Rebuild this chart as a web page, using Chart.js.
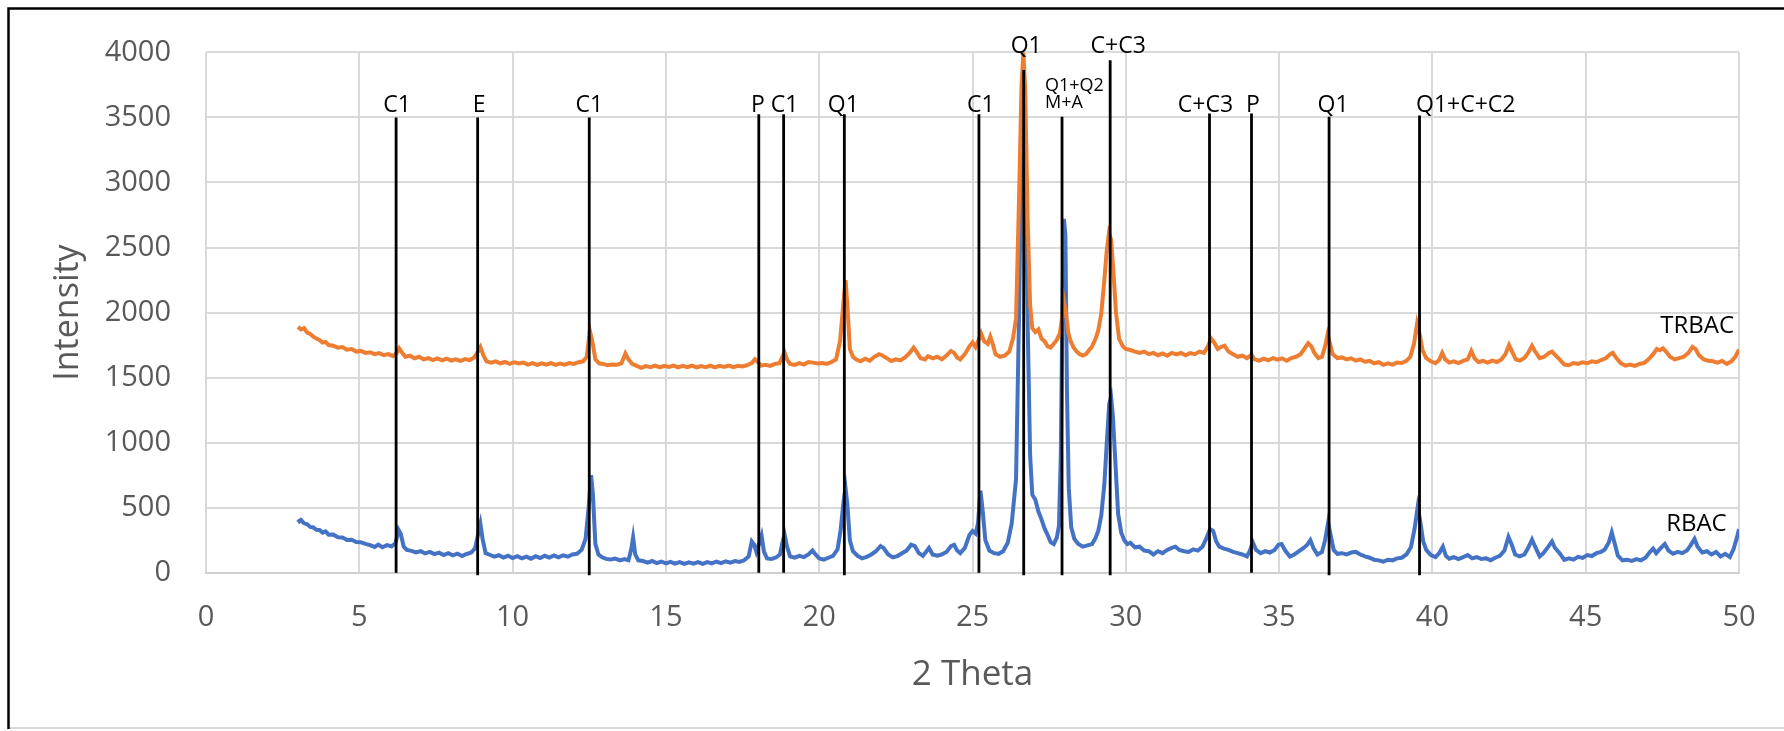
<!DOCTYPE html>
<html>
<head>
<meta charset="utf-8">
<script src="https://cdn.jsdelivr.net/npm/chart.js@4.4.1/dist/chart.umd.min.js"></script>
<style>
  html, body { margin: 0; padding: 0; background: #fff; }
  #wrap { width: 1784px; height: 731px; position: relative; }
</style>
</head>
<body>
<div id="wrap"><canvas id="xrd"></canvas></div>
<script>
// XRD scans, [2 theta, intensity]
const rbacScan = [
  [3.0,410],[3.05,395],[3.1,405],[3.2,380],[3.3,372],[3.4,352],[3.5,348],[3.6,330],[3.7,328],[3.8,308],
  [3.9,318],[4.0,292],[4.15,294],[4.3,272],[4.45,270],[4.6,252],[4.75,253],[4.9,236],[5.05,234],[5.2,222],
  [5.35,212],[5.5,198],[5.62,216],[5.75,196],[5.9,212],[6.05,203],[6.18,225],[6.28,330],[6.35,300],[6.45,200],
  [6.55,175],[6.7,168],[6.85,156],[7.0,166],[7.15,148],[7.3,160],[7.45,143],[7.6,154],[7.75,136],[7.9,150],
  [8.05,133],[8.2,147],[8.35,128],[8.5,144],[8.65,155],[8.78,190],[8.88,300],[8.95,375],[9.02,260],[9.12,150],
  [9.25,138],[9.4,123],[9.55,134],[9.7,116],[9.85,130],[10.0,113],[10.15,127],[10.3,110],[10.45,124],[10.6,108],
  [10.75,127],[10.9,113],[11.05,130],[11.2,116],[11.35,132],[11.5,118],[11.65,134],[11.8,123],[11.95,140],[12.1,145],
  [12.25,175],[12.38,260],[12.48,500],[12.56,750],[12.62,600],[12.7,220],[12.8,140],[12.92,118],[13.05,106],[13.2,102],
  [13.35,108],[13.5,94],[13.65,104],[13.78,95],[13.87,180],[13.93,270],[14.0,140],[14.1,95],[14.25,90],[14.4,78],
  [14.55,90],[14.7,74],[14.85,86],[15.0,72],[15.15,84],[15.3,70],[15.45,82],[15.6,68],[15.75,80],[15.9,70],
  [16.05,82],[16.2,68],[16.35,82],[16.5,72],[16.65,86],[16.8,74],[16.95,88],[17.1,78],[17.25,90],[17.4,83],
  [17.55,95],[17.7,125],[17.8,240],[17.88,215],[17.95,160],[18.05,230],[18.12,285],[18.2,160],[18.3,110],[18.45,105],
  [18.6,118],[18.72,140],[18.8,230],[18.87,295],[18.95,200],[19.05,125],[19.2,116],[19.35,130],[19.5,120],[19.65,140],
  [19.78,170],[19.88,140],[20.0,110],[20.15,100],[20.3,115],[20.45,130],[20.6,180],[20.7,330],[20.8,560],[20.86,650],
  [20.92,520],[21.0,250],[21.1,165],[21.25,130],[21.4,110],[21.55,122],[21.7,140],[21.85,165],[22.0,205],[22.1,190],
  [22.25,140],[22.4,118],[22.55,128],[22.7,150],[22.85,170],[23.0,215],[23.12,205],[23.25,150],[23.38,130],[23.5,165],
  [23.58,190],[23.7,140],[23.85,130],[24.0,140],[24.15,160],[24.3,205],[24.4,215],[24.5,170],[24.6,150],[24.75,190],
  [24.9,290],[25.0,320],[25.1,300],[25.18,380],[25.26,630],[25.33,480],[25.42,250],[25.55,170],[25.7,150],[25.85,145],
  [26.0,165],[26.15,230],[26.28,380],[26.42,720],[26.52,2000],[26.6,3400],[26.66,3800],[26.72,3300],[26.8,1900],[26.88,900],
  [26.95,600],[27.05,560],[27.15,470],[27.25,410],[27.35,340],[27.45,290],[27.55,235],[27.65,220],[27.75,270],[27.82,360],
  [27.88,900],[27.93,2000],[27.98,2720],[28.03,2600],[28.08,1400],[28.14,650],[28.22,350],[28.32,260],[28.45,220],[28.6,200],
  [28.75,210],[28.9,220],[29.0,260],[29.1,320],[29.2,440],[29.3,680],[29.38,1000],[29.46,1300],[29.52,1350],[29.58,1200],
  [29.66,850],[29.75,450],[29.85,310],[29.95,250],[30.05,220],[30.15,230],[30.3,195],[30.45,200],[30.6,170],[30.75,165],
  [30.9,140],[31.05,165],[31.2,150],[31.35,175],[31.5,190],[31.62,200],[31.75,175],[31.9,165],[32.05,160],[32.2,180],
  [32.35,170],[32.5,200],[32.62,260],[32.75,335],[32.85,320],[32.95,240],[33.05,200],[33.2,185],[33.35,175],[33.5,160],
  [33.65,150],[33.8,140],[33.95,125],[34.05,170],[34.14,235],[34.25,175],[34.4,150],[34.55,165],[34.7,155],[34.85,175],
  [34.98,215],[35.08,220],[35.2,170],[35.35,125],[35.5,140],[35.65,165],[35.8,190],[35.92,215],[36.02,250],[36.12,190],
  [36.25,140],[36.4,160],[36.5,250],[36.6,385],[36.68,290],[36.78,175],[36.9,145],[37.05,150],[37.2,140],[37.35,155],
  [37.5,160],[37.65,140],[37.8,125],[37.95,115],[38.1,100],[38.25,95],[38.4,85],[38.55,100],[38.7,95],[38.85,110],
  [39.0,115],[39.15,140],[39.3,195],[39.42,340],[39.52,505],[39.6,400],[39.7,240],[39.8,175],[39.95,135],[40.1,120],
  [40.22,150],[40.34,200],[40.44,130],[40.55,108],[40.7,120],[40.85,105],[41.0,120],[41.15,135],[41.3,110],[41.45,120],
  [41.6,105],[41.75,110],[41.9,96],[42.05,115],[42.2,130],[42.35,170],[42.48,275],[42.58,220],[42.7,140],[42.85,125],
  [43.0,140],[43.12,190],[43.25,255],[43.35,200],[43.5,125],[43.62,150],[43.78,200],[43.9,240],[44.0,190],[44.15,150],
  [44.3,98],[44.45,110],[44.6,100],[44.75,122],[44.9,114],[45.05,136],[45.2,128],[45.35,150],[45.5,160],[45.62,178],
  [45.75,230],[45.85,310],[45.95,220],[46.05,130],[46.2,95],[46.35,100],[46.5,90],[46.65,105],[46.8,95],[46.95,115],
  [47.1,160],[47.2,185],[47.3,150],[47.45,190],[47.58,220],[47.7,170],[47.85,145],[48.0,160],[48.15,150],[48.3,170],
  [48.42,210],[48.55,260],[48.65,200],[48.8,155],[48.95,165],[49.1,140],[49.25,160],[49.4,125],[49.55,145],[49.7,120],
  [49.82,180],[49.92,260],[50.0,335]
];

const trbacScan = [
  [3.0,1890],[3.1,1870],[3.2,1880],[3.3,1845],[3.4,1835],[3.5,1815],[3.6,1800],[3.7,1790],[3.8,1770],[3.9,1775],
  [4.0,1750],[4.15,1745],[4.3,1730],[4.45,1735],[4.6,1715],[4.75,1720],[4.9,1700],[5.05,1705],[5.2,1690],[5.35,1695],
  [5.5,1680],[5.65,1688],[5.8,1672],[5.95,1680],[6.1,1665],[6.22,1690],[6.3,1725],[6.4,1690],[6.5,1660],[6.65,1668],
  [6.8,1648],[6.95,1660],[7.1,1640],[7.25,1650],[7.4,1635],[7.55,1648],[7.7,1632],[7.85,1645],[8.0,1630],[8.15,1640],
  [8.3,1628],[8.45,1642],[8.6,1635],[8.75,1655],[8.87,1700],[8.95,1735],[9.05,1670],[9.15,1625],[9.3,1615],[9.45,1625],
  [9.6,1610],[9.75,1620],[9.9,1605],[10.05,1618],[10.2,1608],[10.35,1615],[10.5,1600],[10.65,1612],[10.8,1598],[10.95,1610],
  [11.1,1600],[11.25,1612],[11.4,1598],[11.55,1608],[11.7,1600],[11.85,1612],[12.0,1605],[12.15,1618],[12.3,1625],[12.42,1660],
  [12.52,1860],[12.6,1780],[12.7,1640],[12.82,1610],[12.95,1605],[13.1,1595],[13.25,1600],[13.4,1598],[13.55,1610],[13.68,1685],
  [13.78,1640],[13.9,1605],[14.05,1590],[14.2,1575],[14.35,1588],[14.5,1580],[14.65,1592],[14.8,1578],[14.95,1590],[15.1,1582],
  [15.25,1592],[15.4,1578],[15.55,1590],[15.7,1580],[15.85,1592],[16.0,1578],[16.15,1588],[16.3,1580],[16.45,1592],[16.6,1578],
  [16.75,1590],[16.9,1582],[17.05,1592],[17.2,1580],[17.35,1590],[17.5,1585],[17.65,1595],[17.8,1612],[17.9,1640],[18.0,1620],
  [18.1,1592],[18.25,1598],[18.4,1590],[18.55,1605],[18.7,1610],[18.8,1660],[18.87,1695],[18.95,1640],[19.05,1605],[19.2,1598],
  [19.35,1612],[19.5,1600],[19.65,1620],[19.8,1615],[19.95,1608],[20.1,1612],[20.25,1605],[20.4,1620],[20.55,1640],[20.68,1780],
  [20.8,2100],[20.86,2250],[20.92,2050],[21.0,1720],[21.1,1660],[21.2,1640],[21.35,1625],[21.5,1645],[21.65,1630],[21.8,1660],
  [21.95,1680],[22.05,1672],[22.2,1650],[22.35,1628],[22.5,1640],[22.65,1632],[22.8,1655],[22.95,1690],[23.08,1730],[23.2,1690],
  [23.3,1650],[23.45,1640],[23.55,1665],[23.7,1648],[23.85,1660],[24.0,1640],[24.15,1670],[24.3,1705],[24.4,1690],[24.5,1655],
  [24.6,1640],[24.75,1680],[24.9,1740],[25.0,1770],[25.1,1735],[25.2,1790],[25.28,1840],[25.38,1780],[25.5,1760],[25.58,1815],
  [25.66,1760],[25.75,1680],[25.9,1660],[26.05,1668],[26.2,1700],[26.32,1800],[26.42,1950],[26.52,2900],[26.6,3750],[26.66,4000],
  [26.72,3700],[26.8,2700],[26.88,2050],[26.95,1880],[27.05,1850],[27.15,1870],[27.25,1800],[27.35,1780],[27.45,1740],[27.55,1730],
  [27.65,1760],[27.75,1790],[27.85,1840],[27.92,1960],[27.98,2090],[28.05,1990],[28.12,1850],[28.2,1780],[28.3,1730],[28.4,1700],
  [28.5,1680],[28.6,1670],[28.7,1680],[28.8,1710],[28.9,1740],[29.0,1790],[29.1,1860],[29.2,1990],[29.3,2250],[29.38,2480],
  [29.45,2610],[29.52,2560],[29.6,2300],[29.68,2000],[29.78,1800],[29.9,1740],[30.0,1720],[30.15,1712],[30.3,1700],[30.45,1690],
  [30.6,1700],[30.75,1680],[30.9,1690],[31.05,1672],[31.2,1685],[31.35,1668],[31.5,1690],[31.65,1678],[31.8,1690],[31.95,1672],
  [32.1,1688],[32.25,1680],[32.4,1700],[32.55,1690],[32.68,1740],[32.78,1800],[32.88,1770],[33.0,1720],[33.1,1735],[33.22,1745],
  [33.35,1700],[33.5,1680],[33.65,1660],[33.8,1668],[33.95,1650],[34.1,1675],[34.2,1640],[34.35,1630],[34.5,1645],[34.65,1632],
  [34.8,1650],[34.95,1638],[35.1,1648],[35.25,1630],[35.4,1650],[35.55,1660],[35.7,1680],[35.82,1720],[35.95,1765],[36.05,1740],
  [36.15,1690],[36.28,1650],[36.4,1660],[36.5,1740],[36.58,1830],[36.66,1760],[36.75,1680],[36.9,1650],[37.05,1655],[37.2,1640],
  [37.35,1648],[37.5,1630],[37.65,1640],[37.8,1622],[37.95,1628],[38.1,1610],[38.25,1618],[38.4,1598],[38.55,1610],[38.7,1600],
  [38.85,1615],[39.0,1612],[39.15,1628],[39.28,1660],[39.4,1760],[39.5,1915],[39.58,1840],[39.68,1710],[39.8,1650],[39.95,1625],
  [40.1,1610],[40.22,1635],[40.32,1690],[40.42,1640],[40.55,1615],[40.7,1625],[40.85,1612],[41.0,1628],[41.15,1640],[41.27,1705],
  [41.37,1650],[41.5,1620],[41.65,1628],[41.8,1615],[41.95,1630],[42.1,1620],[42.25,1640],[42.38,1680],[42.5,1750],[42.6,1700],
  [42.72,1640],[42.85,1630],[43.0,1650],[43.12,1690],[43.25,1745],[43.35,1700],[43.5,1650],[43.65,1660],[43.8,1690],[43.9,1700],
  [44.0,1675],[44.15,1640],[44.3,1600],[44.45,1595],[44.6,1612],[44.75,1605],[44.9,1618],[45.05,1610],[45.2,1625],[45.35,1618],
  [45.5,1635],[45.65,1648],[45.8,1680],[45.88,1690],[46.0,1650],[46.15,1610],[46.3,1592],[46.45,1600],[46.6,1590],[46.75,1605],
  [46.9,1612],[47.05,1640],[47.2,1680],[47.32,1720],[47.42,1710],[47.52,1725],[47.62,1700],[47.75,1660],[47.9,1640],[48.05,1650],
  [48.2,1660],[48.35,1690],[48.48,1735],[48.58,1720],[48.7,1670],[48.85,1640],[49.0,1630],[49.15,1625],[49.3,1615],[49.45,1628],
  [49.6,1605],[49.75,1625],[49.88,1660],[50.0,1715]
];

// phase reflections: position, line top, line bottom, label
const phaseTheta  = [6.20, 8.86, 12.50, 18.03, 18.84, 20.82, 25.21, 26.67, 27.92, 29.49, 32.73, 34.10, 36.63, 39.58];
const phaseTop    = [3500, 3500, 3500, 3525, 3525, 3525, 3525, 3865, 3505, 3940, 3530, 3530, 3505, 3515];
const phaseBottom = [0, -20, -20, 0, 0, -20, 0, -20, -20, -20, 0, 0, -20, -20];
const phaseLabels = ['C1', 'E', 'C1', 'P', 'C1', 'Q1', 'C1', 'Q1', ['Q1+Q2', 'M+A'], 'C+C3', 'C+C3', 'P', 'Q1', 'Q1+C+C2'];

const seriesNames = ['RBAC', 'TRBAC'];

const xTicks = [0, 5, 10, 15, 20, 25, 30, 35, 40, 45, 50];
const yTicks = [0, 500, 1000, 1500, 2000, 2500, 3000, 3500, 4000];

const FONT = "'Open Sans', 'Noto Sans', sans-serif";
const GREY_TEXT = '#595959';

const toPoints = scan => scan.map(([t, v]) => ({ x: t, y: v }));

// vertical reference lines, broken with nulls between them
const phaseLines = [];
phaseTheta.forEach((t, i) => {
  phaseLines.push({ x: t, y: phaseBottom[i] });
  phaseLines.push({ x: t, y: phaseTop[i] });
  phaseLines.push({ x: t, y: null });
});

// frame around the figure
const framePlugin = {
  id: 'frame',
  beforeDraw(chart) {
    const { ctx, width } = chart;
    ctx.save();
    ctx.fillStyle = '#fff';
    ctx.fillRect(0, 0, chart.width, chart.height);
    ctx.strokeStyle = '#d9d9d9';
    ctx.lineWidth = 2;
    ctx.beginPath();
    ctx.moveTo(9, 728);
    ctx.lineTo(width, 728);
    ctx.stroke();
    ctx.strokeStyle = '#000';
    ctx.lineWidth = 2.5;
    ctx.beginPath();
    ctx.moveTo(8.5, 729);
    ctx.lineTo(8.5, 8.5);
    ctx.lineTo(width, 8.5);
    ctx.stroke();
    ctx.restore();
  }
};

// phase labels and series names
const labelPlugin = {
  id: 'phaseText',
  afterDatasetsDraw(chart, args, opts) {
    const { ctx, scales: { x, y } } = chart;
    ctx.save();
    ctx.fillStyle = '#000';
    ctx.textBaseline = 'alphabetic';
    phaseLabels.forEach((txt, i) => {
      const p = opts.placement[i];
      const px = x.getPixelForValue(phaseTheta[i]) + p.dx;
      ctx.textAlign = p.align;
      if (Array.isArray(txt)) {
        ctx.font = `18px ${FONT}`;
        txt.forEach((line, k) => {
          ctx.fillText(line, px, y.getPixelForValue(p.base[k]));
        });
      } else {
        ctx.font = `23px ${FONT}`;
        ctx.fillText(txt, px, y.getPixelForValue(p.base));
      }
    });
    ctx.font = `24px ${FONT}`;
    ctx.textAlign = 'right';
    seriesNames.forEach((name, i) => {
      const [t, v] = opts.names[i];
      ctx.fillText(name, x.getPixelForValue(t), y.getPixelForValue(v));
    });
    ctx.restore();
  }
};

const LOW = 3542, HIGH = 3992;

new Chart(document.getElementById('xrd'), {
  type: 'scatter',
  data: {
    datasets: [
      {
        label: 'phases',
        data: phaseLines,
        showLine: true,
        spanGaps: false,
        borderColor: '#000',
        borderWidth: 2.8,
        pointRadius: 0,
        clip: false,
        order: 0
      },
      {
        label: seriesNames[1],
        data: toPoints(trbacScan),
        showLine: true,
        borderColor: '#ED7D31',
        borderWidth: 4,
        pointRadius: 0,
        tension: 0,
        order: 1
      },
      {
        label: seriesNames[0],
        data: toPoints(rbacScan),
        showLine: true,
        borderColor: '#4472C4',
        borderWidth: 4,
        pointRadius: 0,
        tension: 0,
        order: 2
      }
    ]
  },
  options: {
    responsive: true,
    maintainAspectRatio: false,
    animation: false,
    events: [],
    layout: { padding: { left: 0, top: 45.5, right: 45, bottom: 0 } },
    plugins: {
      legend: { display: false },
      tooltip: { enabled: false },
      phaseText: {
        placement: [
          { align: 'center', dx: 1, base: LOW },
          { align: 'center', dx: 1.5, base: LOW },
          { align: 'center', dx: 0, base: LOW },
          { align: 'center', dx: -1, base: LOW },
          { align: 'center', dx: 1, base: LOW },
          { align: 'center', dx: -1, base: LOW },
          { align: 'center', dx: 2, base: LOW },
          { align: 'center', dx: 2.5, base: HIGH },
          { align: 'left', dx: -17, base: [3700, 3571] },
          { align: 'center', dx: 8, base: HIGH },
          { align: 'center', dx: -4, base: LOW },
          { align: 'center', dx: 1.5, base: LOW },
          { align: 'center', dx: 4, base: LOW },
          { align: 'left', dx: -3.5, base: LOW }
        ],
        names: [[49.6, 324], [49.84, 1842]]
      }
    },
    scales: {
      x: {
        type: 'linear',
        min: 0,
        max: 50,
        afterBuildTicks: s => { s.ticks = xTicks.map(v => ({ value: v })); },
        afterFit: s => { s.height = 731 - 572.7; },
        ticks: {
          color: GREY_TEXT,
          font: { family: FONT, size: 29 },
          padding: 28,
          maxRotation: 0,
          callback: v => String(v)
        },
        grid: { color: '#d9d9d9', lineWidth: 2, drawTicks: false },
        border: { color: '#d0d0d0', width: 2 },
        title: {
          display: true,
          text: '2 Theta',
          color: GREY_TEXT,
          font: { family: FONT, size: 35 },
          padding: { top: 0, bottom: 35 }
        }
      },
      y: {
        type: 'linear',
        min: 0,
        max: 4000,
        afterBuildTicks: s => { s.ticks = yTicks.map(v => ({ value: v })); },
        afterFit: s => { s.width = 206; },
        ticks: {
          color: GREY_TEXT,
          font: { family: FONT, size: 29 },
          padding: 35,
          callback: v => String(v)
        },
        grid: { color: '#d9d9d9', lineWidth: 2, drawTicks: false },
        border: { display: false },
        title: {
          display: true,
          text: 'Intensity',
          color: GREY_TEXT,
          font: { family: FONT, size: 34 },
          padding: { top: 48, bottom: 0 }
        }
      }
    }
  },
  plugins: [framePlugin, labelPlugin]
});
</script>
</body>
</html>
